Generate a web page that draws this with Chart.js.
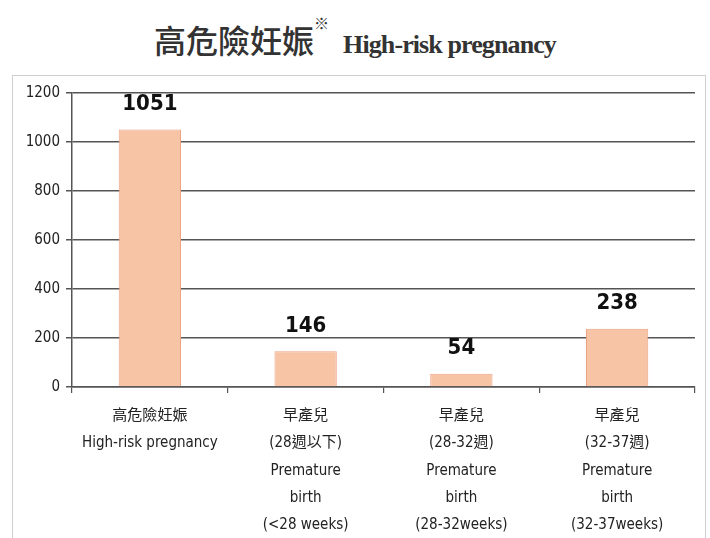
<!DOCTYPE html>
<html>
<head>
<meta charset="utf-8">
<script src="https://cdn.jsdelivr.net/npm/chart.js@4/dist/chart.umd.min.js"></script>
<style>
  body { margin: 0; background: #fff; width: 710px; height: 538px; overflow: hidden; position: relative; }
  #title { position: absolute; left: 0; top: 12px; width: 710px; text-align: center; color: #333; white-space: nowrap; }
  #title .zh { font-family: "Noto Sans CJK TC", sans-serif; font-size: 32px; font-weight: 500; }
  #title .mark { font-family: "Noto Sans CJK TC", sans-serif; font-size: 15px; vertical-align: 24px; margin-right: 14px; }
  #title .en { font-family: "Liberation Serif", serif; font-size: 26px; font-weight: bold; letter-spacing: -0.9px; }
  #box { position: absolute; left: 12px; top: 75px; width: 692px; height: 480px; border: 1px solid #cfcfcf; }
  #chart { position: absolute; left: 0; top: 0; }
</style>
</head>
<body>
<div id="title"><span class="zh">高危險妊娠</span><span class="mark">※</span><span class="en">High-risk pregnancy</span></div>
<div id="box"></div>
<canvas id="chart" width="710" height="538"></canvas>
<script>
const categories = [
  ['高危險妊娠', 'High-risk pregnancy'],
  ['早產兒', '(28週以下)', 'Premature', 'birth', '(<28 weeks)'],
  ['早產兒', '(28-32週)', 'Premature', 'birth', '(28-32weeks)'],
  ['早產兒', '(32-37週)', 'Premature', 'birth', '(32-37weeks)']
];
const counts = [1051, 146, 54, 238];
const yTicks = [0, 200, 400, 600, 800, 1000, 1200];

const labelFont = "'DejaVu Sans Condensed', 'Noto Sans CJK TC', sans-serif";

const valueLabels = {
  id: 'valueLabels',
  afterDatasetsDraw(chart) {
    const ctx = chart.ctx;
    const meta = chart.getDatasetMeta(0);
    ctx.save();
    ctx.font = "bold 22px " + labelFont;
    ctx.fillStyle = '#111';
    ctx.textAlign = 'center';
    ctx.textBaseline = 'middle';
    meta.data.forEach((bar, i) => {
      ctx.fillText(String(counts[i]), bar.x, bar.y - 25);
    });
    ctx.restore();
  }
};

new Chart(document.getElementById('chart').getContext('2d'), {
  type: 'bar',
  data: {
    labels: categories,
    datasets: [{
      data: counts,
      backgroundColor: '#F8C4A6',
      borderColor: '#EBA282',
      borderWidth: 1,
      barPercentage: 0.4,
      categoryPercentage: 1
    }]
  },
  options: {
    responsive: false,
    animation: false,
    layout: { padding: { left: 0, top: 93, right: 15, bottom: 0 } },
    plugins: { legend: { display: false }, tooltip: { enabled: false } },
    scales: {
      x: {
        afterFit(scale) { scale.height = 151; },
        grid: { display: true, drawOnChartArea: false, drawTicks: true, tickLength: 6, color: '#555', lineWidth: 1.2 },
        border: { color: '#555', width: 1.5 },
        ticks: {
          color: '#222',
          padding: 9,
          maxRotation: 0,
          autoSkip: false,
          font: { family: labelFont, size: 15, lineHeight: 1.83 }
        }
      },
      y: {
        min: 0,
        max: 1200,
        afterFit(scale) { scale.width = 72; },
        afterBuildTicks(scale) { scale.ticks = yTicks.map(v => ({ value: v })); },
        grid: { color: '#555', lineWidth: 1.5, tickLength: 6 },
        border: { color: '#555', width: 1.5 },
        ticks: {
          color: '#222',
          padding: 6,
          font: { family: labelFont, size: 15 },
          callback: v => String(v)
        }
      }
    }
  },
  plugins: [valueLabels]
});
</script>
</body>
</html>
